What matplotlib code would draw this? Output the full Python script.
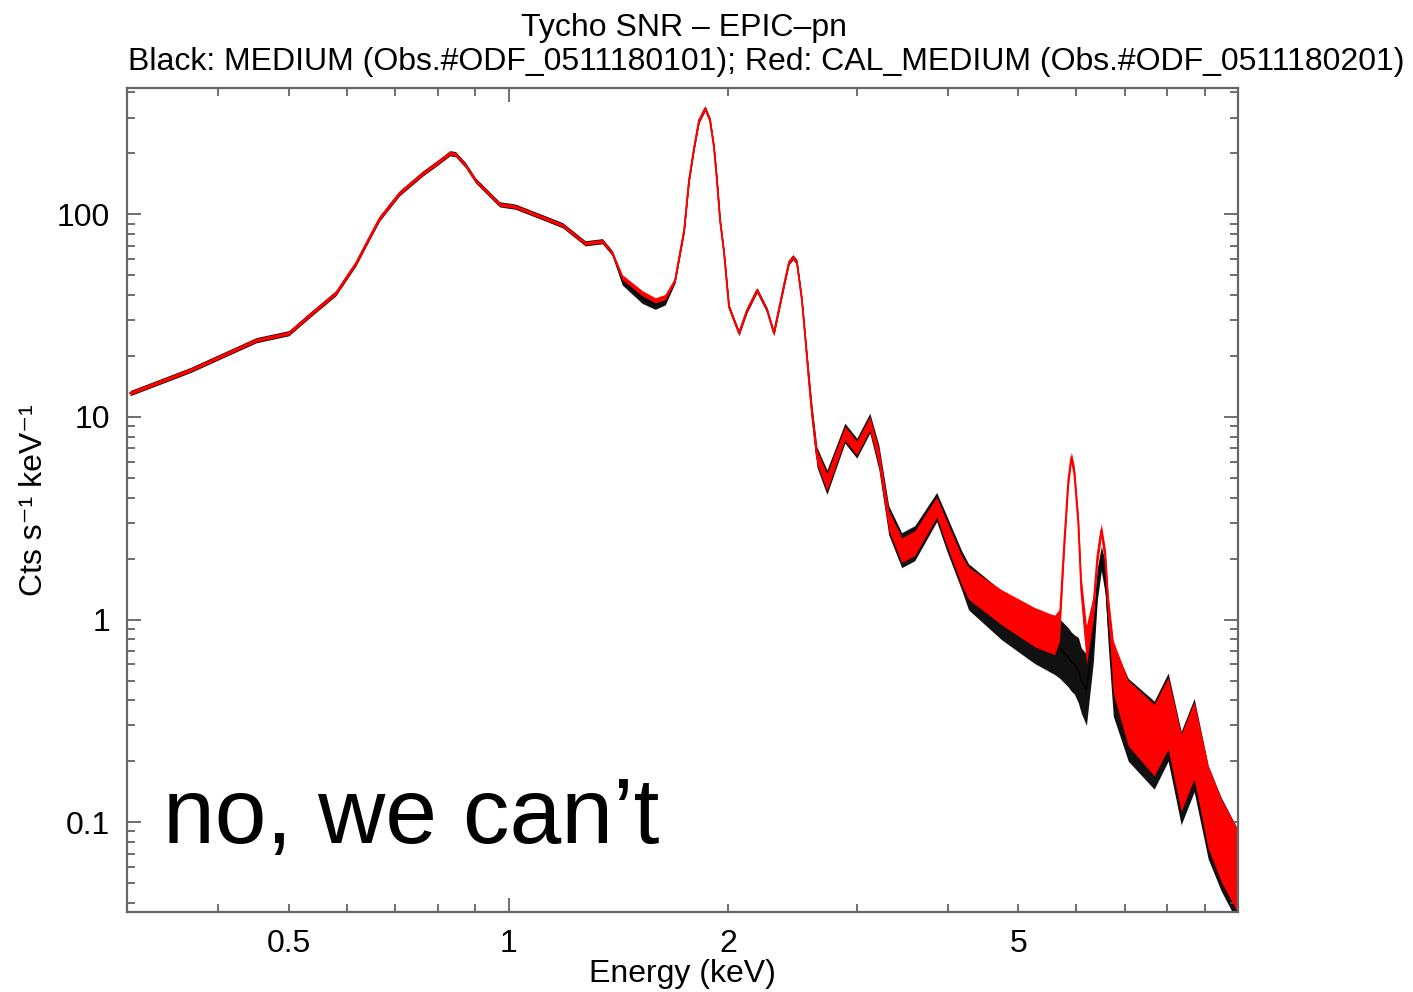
import numpy as np
import matplotlib
matplotlib.use('Agg')
import matplotlib.pyplot as plt
from matplotlib.ticker import FixedLocator, FuncFormatter, NullFormatter

plt.rcParams['font.family'] = ['Liberation Sans', 'DejaVu Sans']

# energy grid (keV)
energy = [0.303, 0.366, 0.451, 0.500, 0.534, 0.580, 0.618, 0.645, 0.666, 0.709,
          0.763, 0.800, 0.831, 0.846, 0.873, 0.901, 0.972, 1.022, 1.113, 1.186,
          1.274, 1.345, 1.388, 1.432, 1.525, 1.589, 1.640, 1.692, 1.741, 1.768,
          1.797, 1.825, 1.860, 1.889, 1.913, 1.931, 1.950, 1.975, 2.006, 2.070,
          2.123, 2.191, 2.262, 2.311, 2.386, 2.424, 2.454, 2.485, 2.525, 2.557,
          2.581, 2.606, 2.647, 2.732, 2.891, 3.002, 3.128, 3.218, 3.320, 3.459,
          3.604, 3.863, 3.986, 4.179, 4.272, 4.740, 5.259, 5.602, 5.691, 5.781,
          5.853, 5.908, 5.965, 6.040, 6.097, 6.196, 6.333, 6.414, 6.494, 6.577,
          6.640, 6.745, 7.071, 7.674, 8.020, 8.356, 8.706, 9.099, 9.478, 9.970]

# Red: CAL_MEDIUM (counts s^-1 keV^-1)
red_rate = [13.1, 17.0, 23.9, 25.9, 31.8, 40.8, 57.3, 77.0, 95.5, 127,
            159, 180, 200, 198, 175, 147, 112, 109, 96.7, 88.3,
            71.9, 73.6, 64.2, 48.9, 40.8, 37.6, 39.0, 47.2, 83.4, 147,
            214, 291, 333, 291, 214, 147, 93.3, 64.2, 34.8, 25.9,
            33.6, 42.2, 33.6, 25.9, 44.7, 58.0, 61.4, 58.0, 37.6, 22.6,
            15.2, 10.4, 6.33, 4.76, 8.31, 7.01, 9.31, 6.33, 3.09, 2.20,
            2.38, 3.59, 2.67, 1.75, 1.51, 1.15, 0.918, 0.838, 0.938, 2.46,
            4.87, 6.33, 5.28, 2.99, 1.40, 0.748, 1.15, 2.03, 2.76, 2.03,
            1.15, 0.582, 0.345, 0.254, 0.345, 0.175, 0.254, 0.119, 0.0816, 0.058]

# Black: MEDIUM
black_rate = [13.1, 17.0, 23.9, 25.9, 31.8, 40.8, 57.3, 77.0, 95.5, 127,
              159, 180, 200, 198, 175, 147, 112, 109, 96.7, 88.3,
              71.9, 73.6, 64.2, 47.0, 38.5, 36.0, 37.5, 47.2, 83.4, 147,
              214, 291, 333, 291, 214, 147, 93.3, 64.2, 34.8, 25.9,
              33.6, 42.2, 33.6, 25.9, 44.7, 58.0, 61.4, 58.0, 37.6, 22.6,
              15.2, 10.4, 6.33, 4.76, 8.31, 7.01, 9.31, 6.33, 3.09, 2.20,
              2.38, 3.59, 2.67, 1.75, 1.45, 1.05, 0.82, 0.75, 0.72, 0.68,
              0.65, 0.62, 0.60, 0.563, 0.50, 0.45, 0.80, 1.50, 2.00, 1.60,
              0.95, 0.50, 0.32, 0.24, 0.33, 0.165, 0.24, 0.112, 0.078, 0.055]

# scatter of the noisy points, as multiplicative half-widths
red_err = [1.02, 1.02, 1.02, 1.02, 1.02, 1.02, 1.02, 1.02, 1.02, 1.02,
           1.02, 1.02, 1.02, 1.02, 1.02, 1.02, 1.02, 1.02, 1.02, 1.02,
           1.02, 1.02, 1.02, 1.03, 1.03, 1.03, 1.03, 1.02, 1.02, 1.02,
           1.02, 1.02, 1.02, 1.02, 1.02, 1.02, 1.02, 1.02, 1.02, 1.02,
           1.02, 1.02, 1.02, 1.02, 1.02, 1.02, 1.02, 1.02, 1.02, 1.02,
           1.05, 1.06, 1.08, 1.10, 1.08, 1.08, 1.08, 1.10, 1.12, 1.15,
           1.15, 1.12, 1.15, 1.18, 1.20, 1.22, 1.25, 1.25, 1.20, 1.12,
           1.08, 1.06, 1.08, 1.10, 1.15, 1.25, 1.15, 1.10, 1.08, 1.10,
           1.15, 1.35, 1.45, 1.50, 1.50, 1.55, 1.55, 1.60, 1.60, 1.60]

black_err = [1.03, 1.03, 1.03, 1.03, 1.03, 1.03, 1.03, 1.03, 1.03, 1.03,
             1.03, 1.03, 1.03, 1.03, 1.03, 1.03, 1.03, 1.03, 1.03, 1.03,
             1.03, 1.03, 1.03, 1.05, 1.06, 1.06, 1.05, 1.03, 1.03, 1.03,
             1.03, 1.03, 1.03, 1.03, 1.03, 1.03, 1.03, 1.03, 1.03, 1.03,
             1.03, 1.03, 1.03, 1.03, 1.03, 1.03, 1.03, 1.03, 1.03, 1.03,
             1.08, 1.10, 1.12, 1.15, 1.12, 1.12, 1.12, 1.15, 1.18, 1.22,
             1.22, 1.18, 1.22, 1.25, 1.30, 1.32, 1.35, 1.40, 1.40, 1.40,
             1.40, 1.40, 1.40, 1.45, 1.45, 1.50, 1.30, 1.20, 1.15, 1.20,
             1.30, 1.50, 1.60, 1.65, 1.65, 1.70, 1.70, 1.70, 1.70, 1.70]

E = np.array(energy)
rr = np.array(red_rate)
br = np.array(black_rate)
re = np.array(red_err)
be = np.array(black_err)

fig = plt.figure(figsize=(14.13, 9.92), dpi=100)
ax = fig.add_axes([0.0899, 0.0806, 0.7863, 0.8307])

ax.fill_between(E, br / be, br * be, color='#111111', linewidth=0, zorder=1)
ax.plot(E, br, color='black', linewidth=1.0, zorder=1.1)
ax.fill_between(E, rr / re, rr * re, color='#ff0000', linewidth=0, zorder=2)
ax.plot(E, rr, color='#ff0000', linewidth=1.4, zorder=2.1)

ax.set_xscale('log')
ax.set_yscale('log')
ax.set_xlim(0.3, 10.0)
ax.set_ylim(0.036, 420)

ax.xaxis.set_major_locator(FixedLocator([1.0]))
ax.xaxis.set_minor_locator(FixedLocator([0.3, 0.4, 0.5, 0.6, 0.7, 0.8, 0.9,
                                         2, 3, 4, 5, 6, 7, 8, 9]))
ax.xaxis.set_major_formatter(FuncFormatter(lambda v, p: '%g' % v))
ax.xaxis.set_minor_formatter(FuncFormatter(
    lambda v, p: '%g' % v if round(v, 2) in (0.5, 2.0, 5.0) else ''))

ax.yaxis.set_major_locator(FixedLocator([0.1, 1, 10, 100]))
ax.yaxis.set_minor_locator(FixedLocator(
    [m * d for d in (0.01, 0.1, 1, 10, 100) for m in range(2, 10)]))
ax.yaxis.set_major_formatter(FuncFormatter(lambda v, p: '%g' % v))
ax.yaxis.set_minor_formatter(NullFormatter())

for s in ax.spines.values():
    s.set_color('#666666')
    s.set_linewidth(1.6)
ax.tick_params(which='both', direction='in', top=True, right=True,
               color='#555555', width=1.2, labelsize=23, pad=12)
ax.tick_params(which='major', length=10)
ax.tick_params(which='minor', length=6)

ax.set_xlabel('Energy (keV)', fontsize=23, labelpad=0)
ax.set_ylabel('Cts s⁻¹ keV⁻¹', fontsize=23, labelpad=6)

fig.text(0.484, 0.972, 'Tycho SNR – EPIC–pn', ha='center', va='center', fontsize=23)
fig.text(0.542, 0.937,
         'Black: MEDIUM (Obs.#ODF_0511180101); Red: CAL_MEDIUM (Obs.#ODF_0511180201)',
         ha='center', va='center', fontsize=23)

ax.text(0.032, 0.084, 'no, we can’t', transform=ax.transAxes,
        fontsize=67, ha='left', va='baseline', color='black')

plt.savefig('out.png', dpi=100)
